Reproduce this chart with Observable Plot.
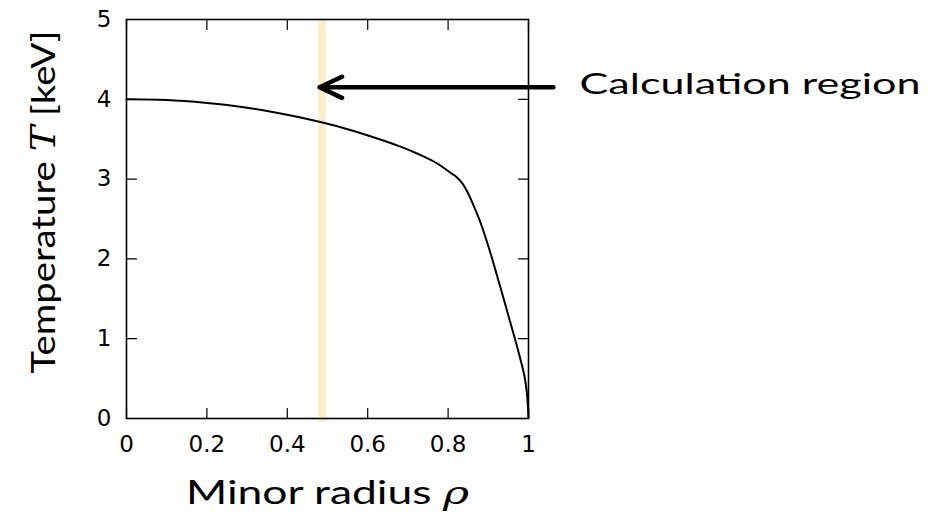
<!DOCTYPE html>
<html><head><meta charset="utf-8">
<script src="https://cdn.jsdelivr.net/npm/d3@7"></script>
<script src="https://cdn.jsdelivr.net/npm/@observablehq/plot@0.6"></script>
<style>body{margin:0;background:#fff}</style>
</head><body><div id="chart"></div>
<script>
// Data
const rho = [0, 0.1, 0.2, 0.25, 0.3, 0.37, 0.43, 0.49, 0.55, 0.62, 0.68, 0.73, 0.77, 0.806, 0.82, 0.835, 0.85, 0.865, 0.881, 0.905, 0.92, 0.94, 0.955, 0.97, 0.98, 0.99, 0.996, 1.0];
const temperature = [4.00, 3.99, 3.955, 3.93, 3.895, 3.835, 3.775, 3.705, 3.625, 3.515, 3.41, 3.305, 3.205, 3.08, 3.03, 2.95, 2.82, 2.65, 2.45, 2.08, 1.82, 1.47, 1.20, 0.93, 0.74, 0.53, 0.32, 0.02];
const xTicks = [0, 0.2, 0.4, 0.6, 0.8, 1];
const xTickLabels = ["0", "0.2", "0.4", "0.6", "0.8", "1"];
const yTicks = [0, 1, 2, 3, 4, 5];
const yTickLabels = ["0", "1", "2", "3", "4", "5"];
const regionRho = [0.478, 0.497];
const regionT = [-0.05, 5];
const arrowStart = [1.062, 4.15];
const arrowEnd = [0.48, 4.15];
const annotationText = ["Calculation region"];
const annotationPos = [1.127, 4.15];
const xLabel = ["Minor radius ρ"];
const yLabel = ["Temperature T [keV]"];

const curve = rho.map((r, i) => ({r, t: temperature[i]}));
const labelFont = "Lato";
const tickShape = {draw(context, l) { context.moveTo(0, 0); context.lineTo(0, -l); }};
const tickFont = "DejaVu Sans";

const svg = Plot.plot({
  width: 948,
  height: 516,
  marginLeft: 126,
  marginRight: 420,
  marginTop: 19,
  marginBottom: 98,
  style: {fontFamily: tickFont, fontSize: "23px", background: "white", color: "black"},
  x: {domain: [0, 1], axis: null},
  y: {domain: [0, 5], axis: null},
  marks: [
    Plot.rect([{x1: regionRho[0], x2: regionRho[1], y1: regionT[0], y2: regionT[1]}], {x1: "x1", x2: "x2", y1: "y1", y2: "y2", fill: "#fdeecb"}),
    // inward ticks on all four sides
    Plot.vector(xTicks, {x: d => d, frameAnchor: "bottom", length: 10, rotate: 0, anchor: "start", shape: tickShape, stroke: "black", strokeWidth: 1.2}),
    Plot.vector(xTicks, {x: d => d, frameAnchor: "top", length: 10, rotate: 180, anchor: "start", shape: tickShape, stroke: "black", strokeWidth: 1.2}),
    Plot.vector(yTicks, {y: d => d, frameAnchor: "left", length: 10, rotate: 90, anchor: "start", shape: tickShape, stroke: "black", strokeWidth: 1.2}),
    Plot.vector(yTicks, {y: d => d, frameAnchor: "right", length: 10, rotate: 270, anchor: "start", shape: tickShape, stroke: "black", strokeWidth: 1.2}),
    // tick labels
    Plot.text(xTicks, {x: d => d, frameAnchor: "bottom", text: (d, i) => xTickLabels[i], lineAnchor: "top", dy: 17, fontSize: 23, fontFamily: tickFont, fill: "black"}),
    Plot.text(yTicks, {y: d => d, frameAnchor: "left", text: (d, i) => yTickLabels[i], textAnchor: "end", lineAnchor: "middle", dx: -15, fontSize: 23, fontFamily: tickFont, fill: "black"}),
    Plot.frame({stroke: "black", strokeWidth: 1.6}),
    Plot.line(curve, {x: "r", y: "t", curve: "catmull-rom", stroke: "black", strokeWidth: 2}),
    Plot.arrow([{x1: arrowStart[0], y1: arrowStart[1], x2: arrowEnd[0], y2: arrowEnd[1]}], {x1: "x1", y1: "y1", x2: "x2", y2: "y2", stroke: "black", strokeWidth: 4.5, headLength: 8.3, headAngle: 50}),
    Plot.text(annotationText, {x: annotationPos[0], y: annotationPos[1], text: d => d, textAnchor: "start", lineAnchor: "middle", dy: -3, fontSize: 29, fontFamily: labelFont, fill: "black"}),
    Plot.text(xLabel, {frameAnchor: "bottom", text: d => d, lineAnchor: "bottom", dy: 85, fontSize: 32, fontFamily: labelFont, fill: "black"}),
    Plot.text(yLabel, {frameAnchor: "left", text: d => d, rotate: -90, lineAnchor: "bottom", dx: -72, dy: -17, fontSize: 33, fontFamily: labelFont, fill: "black"})
  ]
});

// italic math symbols and widths matched to the reference lettering
const fits = {"Minor radius ρ": [" ρ", 283, true], "Temperature T [keV]": [" T ", 343, true], "Calculation region": [null, 341, false]};
d3.select(svg).selectAll("text").each(function () {
  const s = this.textContent;
  const f = fits[s];
  if (!f) return;
  const t = d3.select(this);
  const [sep, len, centered] = f;
  if (sep) {
    const sym = sep.trim();
    const idx = s.indexOf(sep);
    const a = s.slice(0, idx + 1), b = s.slice(idx + 1 + sym.length);
    t.text("");
    t.append("tspan").text(a);
    t.append("tspan").attr("font-family", "DejaVu Serif").attr("font-style", "italic").text(sym);
    if (b) t.append("tspan").text(b);
  }
  t.attr("text-anchor", "start").attr("textLength", len).attr("lengthAdjust", "spacingAndGlyphs");
  if (centered) t.attr("transform", (t.attr("transform") || "") + ` translate(${-len / 2},0)`);
});
document.getElementById("chart").appendChild(svg);
</script>
</body></html>
